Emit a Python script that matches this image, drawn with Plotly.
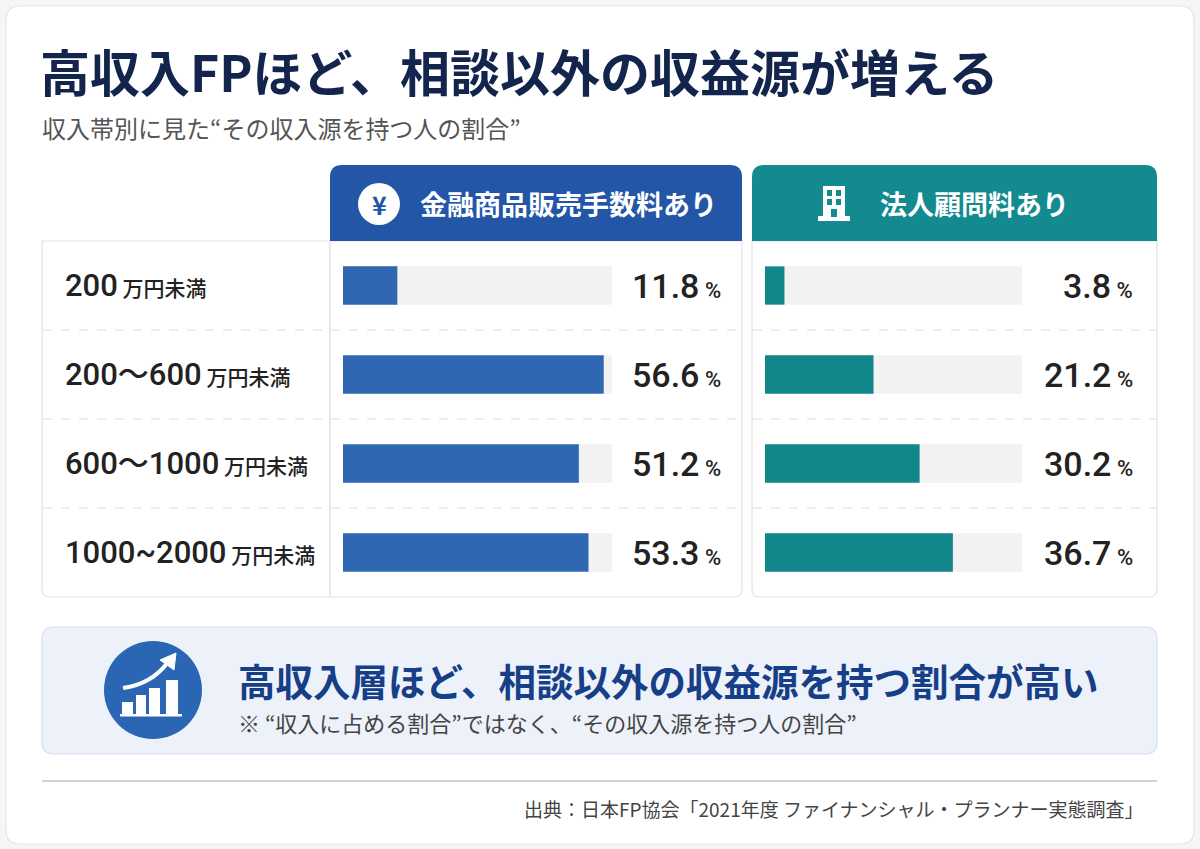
import plotly.graph_objects as go

# ---------------- data ----------------
income_bands = ["200", "200～600", "600～1000", "1000~2000"]
band_unit = "万円未満"
sales_fee_pct = [11.8, 56.6, 51.2, 53.3]      # 金融商品販売手数料あり
advisory_fee_pct = [3.8, 21.2, 30.2, 36.7]     # 法人顧問料あり
series_names = ["金融商品販売手数料あり", "法人顧問料あり"]

title_text = "高収入FPほど、相談以外の収益源が増える"
subtitle_text = "収入帯別に見た“その収入源を持つ人の割合”"
headline_text = "高収入層ほど、相談以外の収益源を持つ割合が高い"
note_text = "※ “収入に占める割合”ではなく、“その収入源を持つ人の割合”"
source_text = "出典：日本FP協会「2021年度 ファイナンシャル・プランナー実態調査」"

# ---------------- layout helpers ----------------
W, H = 1200, 849
BLUE = "#2356a6"
BLUE_BAR = "#2f67b2"
TEAL = "#138a8f"
TEAL_BAR = "#12878b"
TRACK = "#f2f2f2"
BORDER = "#e2e2e2"
CJK = "Noto Sans CJK JP"
NUM = "Roboto, Noto Sans CJK JP"


def X(px):
    return px / W


def Y(py):
    return 1 - py / H


def rrect(x0, y0, x1, y1, tl=0, tr=0, br=0, bl=0):
    p = f"M {X(x0 + tl)},{Y(y0)} L {X(x1 - tr)},{Y(y0)} "
    if tr:
        p += f"Q {X(x1)},{Y(y0)} {X(x1)},{Y(y0 + tr)} "
    p += f"L {X(x1)},{Y(y1 - br)} "
    if br:
        p += f"Q {X(x1)},{Y(y1)} {X(x1 - br)},{Y(y1)} "
    p += f"L {X(x0 + bl)},{Y(y1)} "
    if bl:
        p += f"Q {X(x0)},{Y(y1)} {X(x0)},{Y(y1 - bl)} "
    p += f"L {X(x0)},{Y(y0 + tl)} "
    if tl:
        p += f"Q {X(x0)},{Y(y0)} {X(x0 + tl)},{Y(y0)} "
    return p + "Z"


shapes = []


def add_path(path, fill, line="rgba(0,0,0,0)", lw=1, layer="below"):
    shapes.append(dict(type="path", path=path, xref="paper", yref="paper",
                       fillcolor=fill, line=dict(color=line, width=lw), layer=layer))


def add_rect(x0, y0, x1, y1, fill, layer="above"):
    shapes.append(dict(type="rect", xref="paper", yref="paper",
                       x0=X(x0), x1=X(x1), y0=Y(y1), y1=Y(y0),
                       fillcolor=fill, line=dict(width=0), layer=layer))


def add_line(x0, y0, x1, y1, color, width=1, dash="solid", layer="below"):
    shapes.append(dict(type="line", xref="paper", yref="paper",
                       x0=X(x0), x1=X(x1), y0=Y(y0), y1=Y(y1),
                       line=dict(color=color, width=width, dash=dash), layer=layer))


# card
add_path(rrect(6, 6, 1194, 844, 14, 14, 14, 14), "#ffffff", "#e4e4e4", 1.2)

TOP, HEAD_BOT, BOT = 165, 241, 597
ROW_LINES = [330, 419, 508]
# left table box
add_path(rrect(42, HEAD_BOT, 330, BOT, 0, 0, 0, 8), "#ffffff", BORDER, 1.2)
# blue panel
add_path(rrect(330, HEAD_BOT, 742, BOT, 0, 0, 8, 0), "#ffffff", BORDER, 1.2)
add_path(rrect(330, TOP, 742, HEAD_BOT, 12, 12, 0, 0), BLUE)
# teal panel
add_path(rrect(752, HEAD_BOT, 1157, BOT, 0, 0, 8, 8), "#ffffff", BORDER, 1.2)
add_path(rrect(752, TOP, 1157, HEAD_BOT, 12, 12, 0, 0), TEAL)

for yy in ROW_LINES:
    add_line(43, yy, 329, yy, "#dcdcdc", 1, "dash")
    add_line(331, yy, 741, yy, "#dcdcdc", 1, "dash")
    add_line(753, yy, 1156, yy, "#dcdcdc", 1, "dash")

# yen icon circle
shapes.append(dict(type="circle", xref="paper", yref="paper",
                   x0=X(358), x1=X(400), y0=Y(225), y1=Y(183),
                   fillcolor="#ffffff", line=dict(width=0), layer="above"))
# building icon
add_rect(823, 186, 845, 219, "#ffffff")
add_rect(818, 216, 850, 221, "#ffffff")
for (wx, wy) in [(827, 190), (836, 190), (827, 199), (836, 199)]:
    add_rect(wx, wy, wx + 5, wy + 6, TEAL)
add_rect(831, 209, 837, 217, TEAL)

# bottom message box
add_path(rrect(42, 627, 1157, 754, 12, 12, 12, 12), "#edf2fa", "#d5dff0", 1.2)
shapes.append(dict(type="circle", xref="paper", yref="paper",
                   x0=X(104), x1=X(202), y0=Y(739), y1=Y(641),
                   fillcolor="#2a66b3", line=dict(width=0), layer="above"))
for (bx0, bx1, top) in [(122, 133, 702), (136, 146, 695), (149, 160, 688), (166, 178, 680)]:
    add_rect(bx0, top, bx1, 715, "#ffffff")
add_rect(120, 714, 182, 716.5, "#ffffff")
shapes.append(dict(type="path", xref="paper", yref="paper",
                   path=f"M {X(123)},{Y(688)} Q {X(152)},{Y(684)} {X(168)},{Y(662)}",
                   line=dict(color="#ffffff", width=4), layer="above"))
shapes.append(dict(type="path", xref="paper", yref="paper",
                   path=f"M {X(176)},{Y(653)} L {X(174)},{Y(670)} L {X(160)},{Y(660)} Z",
                   fillcolor="#ffffff", line=dict(color="#ffffff", width=1), layer="above"))

# separator line
add_line(42, 781, 1157, 781, "#c6c6c6", 1.5)

# ---------------- bars ----------------
BLUE_MAX = 58.4
TEAL_MAX = 50.2
fig = go.Figure()
fig.add_trace(go.Bar(y=income_bands, x=[BLUE_MAX] * len(income_bands), orientation="h",
                     marker=dict(color=TRACK, line=dict(width=0)), width=0.43,
                     xaxis="x", yaxis="y", hoverinfo="skip", showlegend=False))
fig.add_trace(go.Bar(y=income_bands, x=sales_fee_pct, orientation="h", name=series_names[0],
                     marker=dict(color=BLUE_BAR, line=dict(width=0)), width=0.43,
                     xaxis="x", yaxis="y", showlegend=False))
fig.add_trace(go.Bar(y=income_bands, x=[TEAL_MAX] * len(income_bands), orientation="h",
                     marker=dict(color=TRACK, line=dict(width=0)), width=0.43,
                     xaxis="x2", yaxis="y2", hoverinfo="skip", showlegend=False))
fig.add_trace(go.Bar(y=income_bands, x=advisory_fee_pct, orientation="h", name=series_names[1],
                     marker=dict(color=TEAL_BAR, line=dict(width=0)), width=0.43,
                     xaxis="x2", yaxis="y2", showlegend=False))

ydom = [Y(BOT), Y(HEAD_BOT)]
hidden = dict(showgrid=False, zeroline=False, showticklabels=False, showline=False,
              ticks="", fixedrange=True)
fig.update_layout(
    width=W, height=H, margin=dict(l=0, r=0, t=0, b=0),
    paper_bgcolor="#f6f6f6", plot_bgcolor="rgba(0,0,0,0)",
    barmode="overlay", hovermode=False,
    font=dict(family=CJK, color="#222222"),
    xaxis=dict(domain=[X(343), X(612)], range=[0, BLUE_MAX], **hidden),
    yaxis=dict(domain=ydom, type="category", categoryorder="array",
               categoryarray=income_bands, range=[3.5, -0.5], anchor="x", **hidden),
    xaxis2=dict(domain=[X(765), X(1022)], range=[0, TEAL_MAX], anchor="y2", **hidden),
    yaxis2=dict(domain=ydom, type="category", categoryorder="array",
                categoryarray=income_bands, range=[3.5, -0.5], anchor="x2", **hidden),
    shapes=shapes,
)

ann = []


def txt(x, y, text, size, color="#222222", xanchor="left", bold=False, family=CJK,
        xref="paper", yref="paper", weight=None):
    f = dict(family=family, size=size, color=color)
    if weight:
        f["weight"] = weight
    ann.append(dict(x=x, y=y, xref=xref, yref=yref, text=f"<b>{text}</b>" if bold else text,
                    showarrow=False, xanchor=xanchor, yanchor="middle", font=f))


txt(X(38), Y(70), title_text, 50, "#13244d", bold=True)
txt(X(40), Y(128), subtitle_text, 24, "#555555")
txt(X(418), Y(203), series_names[0], 27, "#ffffff", bold=True)
txt(X(878), Y(203), series_names[1], 27, "#ffffff", bold=True)
txt(X(379), Y(204), "¥", 25, BLUE, xanchor="center", bold=True)

# category index positions on the bar axes (row centres)
for i, (band, v1, v2) in enumerate(zip(income_bands, sales_fee_pct, advisory_fee_pct)):
    txt(X(63), i,
        f"{band}<span style='font-size:21px;font-family:Noto Sans CJK JP'> {band_unit}</span>",
        31, "#222222", family=NUM, yref="y", weight=500)
    txt(X(723), i, f"{v1:.1f}<span style='font-size:22px'> %</span>", 34,
        "#222222", xanchor="right", family=NUM, yref="y", weight=500)
    txt(X(1135), i, f"{v2:.1f}<span style='font-size:22px'> %</span>", 34,
        "#222222", xanchor="right", family=NUM, yref="y2", weight=500)

txt(X(236), Y(679), headline_text, 37.5, "#173f88", bold=True)
txt(X(236), Y(722), note_text, 22, "#444444")
txt(X(1146), Y(808), source_text, 19, "#444444", xanchor="right")

fig.update_layout(annotations=ann)

fig.write_html("out.html", config=dict(displayModeBar=False),
               post_script="document.body.style.margin='0';document.body.style.overflow='hidden';")
